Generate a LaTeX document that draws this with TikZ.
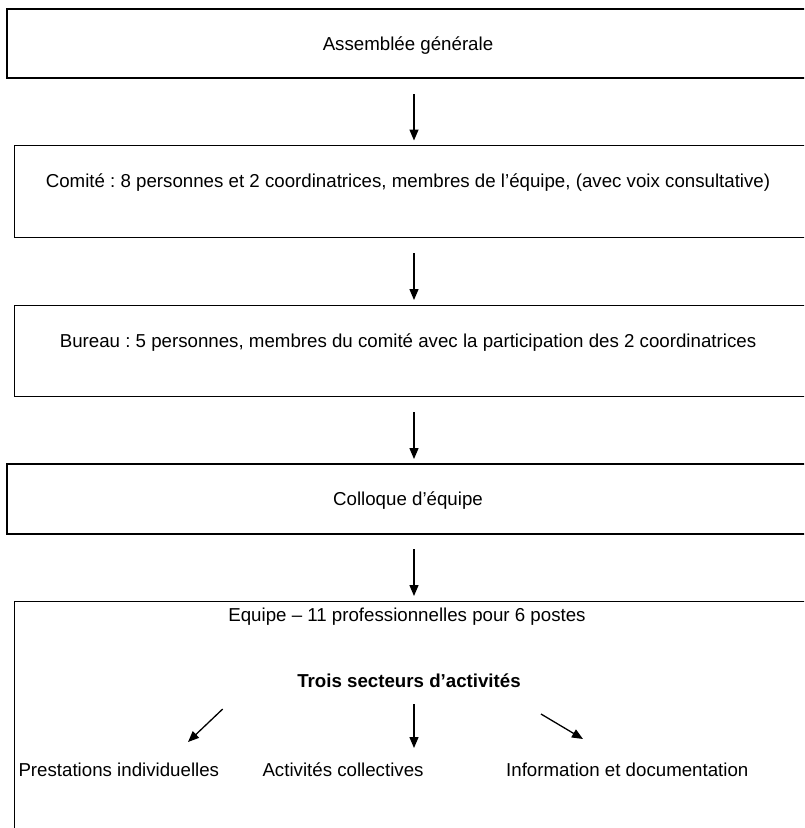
\documentclass[tikz,border=0pt]{standalone}
\usepackage{fontspec}
\setmainfont{Liberation Sans}
\usetikzlibrary{arrows.meta}
\frenchspacing
\begin{document}
\begin{tikzpicture}[x=1pt,y=-1pt,
  thickbox/.style={draw,line width=2.3pt},
  thinbox/.style={draw,line width=1.2pt},
  lbl/.style={anchor=base,inner sep=0pt,font=\fontsize{18.7}{22}\selectfont},
  lblw/.style={anchor=base west,inner sep=0pt,font=\fontsize{18.7}{22}\selectfont},
  arr/.style={-{Triangle[length=11pt,width=9pt]},line width=1.3pt}]
\useasboundingbox (0,0) rectangle (804,828);
\clip (0,0) rectangle (804,828);
% boxes
\draw[thickbox] (7.3,9.3) rectangle (840,78.3);
\draw[thinbox] (14.3,145.5) rectangle (840,237.5);
\draw[thinbox] (14.3,305.5) rectangle (840,396.7);
\draw[thickbox] (7.3,464) rectangle (840,533.7);
\draw[thinbox] (14.3,601.7) rectangle (840,860);
% texts
\node[lbl] (ag) at (408,50.5) {Assemblée générale};
\node[lbl] (com) at (408,187.3) {Comité : 8 personnes et 2 coordinatrices, membres de l’équipe, (avec voix consultative)};
\node[lbl] (bur) at (408,347) {Bureau : 5 personnes, membres du comité avec la participation des 2 coordinatrices};
\node[lbl] (col) at (408,505.5) {Colloque d’équipe};
\node[lbl] (eq) at (407,621.7) {Equipe – 11 professionnelles pour 6 postes};
\node[lbl,font=\fontsize{18.7}{22}\selectfont\bfseries] (trois) at (409,687) {Trois secteurs d’activités};
\node[lblw] (presta) at (18.3,776) {Prestations individuelles};
\node[lblw] (activ) at (262.3,776) {Activités collectives};
\node[lblw] (info) at (506,776) {Information et documentation};
% arrow end points
\coordinate (a1s) at (414,94);  \coordinate (a1e) at (414,140.5);
\coordinate (a2s) at (414,253); \coordinate (a2e) at (414,300);
\coordinate (a3s) at (414,412); \coordinate (a3e) at (414,459);
\coordinate (a4s) at (414,549); \coordinate (a4e) at (414,596);
\coordinate (sls) at (222.7,709); \coordinate (sle) at (188,742);
\coordinate (sms) at (414,704);   \coordinate (sme) at (414,748);
\coordinate (srs) at (541,714);   \coordinate (sre) at (583,739);
\draw[arr] (a1s) -- (a1e);
\draw[arr] (a2s) -- (a2e);
\draw[arr] (a3s) -- (a3e);
\draw[arr] (a4s) -- (a4e);
\draw[arr] (sls) -- (sle);
\draw[arr] (sms) -- (sme);
\draw[arr] (srs) -- (sre);
\end{tikzpicture}
\end{document}
